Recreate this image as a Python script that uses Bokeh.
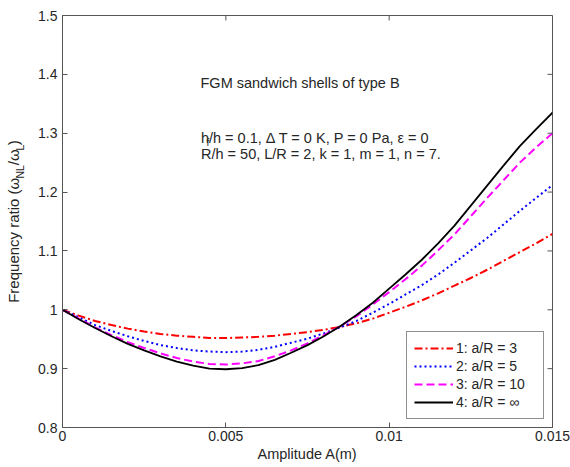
from bokeh.plotting import figure
from bokeh.models import Range1d, FixedTicker, LinearAxis, Label, Legend, LegendItem
from bokeh.embed import file_html
from bokeh.resources import INLINE

# ---- data ----
amplitude = [0.0000, 0.0005, 0.0010, 0.0015, 0.0020, 0.0025, 0.0030, 0.0035,
             0.0040, 0.0045, 0.0050, 0.0055, 0.0060, 0.0065, 0.0070, 0.0075,
             0.0080, 0.0085, 0.0090, 0.0095, 0.0100, 0.0105, 0.0110, 0.0115,
             0.0120, 0.0125, 0.0130, 0.0135, 0.0140, 0.0145, 0.0150]
ratio_aR3 = [1.000, 0.990, 0.981, 0.974, 0.968, 0.963, 0.959, 0.956,
             0.954, 0.952, 0.952, 0.953, 0.954, 0.956, 0.959, 0.962,
             0.966, 0.971, 0.977, 0.985, 0.995, 1.005, 1.016, 1.028,
             1.041, 1.054, 1.068, 1.083, 1.098, 1.113, 1.129]
ratio_aR5 = [1.000, 0.987, 0.974, 0.964, 0.955, 0.947, 0.940, 0.935,
             0.931, 0.929, 0.928, 0.929, 0.932, 0.937, 0.944, 0.951,
             0.960, 0.970, 0.981, 0.995, 1.010, 1.026, 1.042, 1.060,
             1.080, 1.101, 1.122, 1.145, 1.168, 1.190, 1.212]
ratio_aR10 = [1.000, 0.985, 0.970, 0.957, 0.945, 0.935, 0.926, 0.918,
              0.912, 0.908, 0.907, 0.909, 0.913, 0.921, 0.931, 0.943,
              0.957, 0.972, 0.989, 1.009, 1.030, 1.052, 1.075, 1.101,
              1.128, 1.159, 1.190, 1.220, 1.250, 1.276, 1.300]
ratio_aRinf = [1.000, 0.984, 0.969, 0.955, 0.942, 0.931, 0.921, 0.912,
               0.905, 0.900, 0.899, 0.901, 0.906, 0.915, 0.927, 0.940,
               0.955, 0.972, 0.991, 1.012, 1.036, 1.060, 1.085, 1.113,
               1.143, 1.177, 1.211, 1.245, 1.278, 1.307, 1.335]

series_labels = ["1: a/R = 3", "2: a/R = 5", "3: a/R = 10", "4: a/R = \u221e"]

x_ticks = [0.0, 0.005, 0.01, 0.015]
x_tick_labels = ["0", "0.005", "0.01", "0.015"]
y_ticks = [0.8, 0.9, 1.0, 1.1, 1.2, 1.3, 1.4, 1.5]
y_tick_labels = ["0.8", "0.9", "1", "1.1", "1.2", "1.3", "1.4", "1.5"]

x_title = "Amplitude A(m)"
NB = "\u00a0"
# y title: main line with room left for the subscripts, and the subscript line
y_title_main = "Frequency ratio (\u03c9" + NB * 3 + "/\u03c9" + NB + ")"
y_title_sub = NB * 41 + "NL" + NB * 5 + "L"

X_MIN, X_MAX = 0.0, 0.015
Y_MIN, Y_MAX = 0.8, 1.5

FONT = "Liberation Sans"
TXT = "#262626"
AX = "#555555"

# frame placement (canvas pixels)
FX0, FX1, FY0, FY1 = 62.0, 552.0, 427.0, 15.0

p = figure(width=570, height=467, output_backend="svg", toolbar_location=None,
           x_range=Range1d(X_MIN, X_MAX), y_range=Range1d(Y_MIN, Y_MAX),
           min_border_left=62, min_border_right=18, min_border_top=15,
           min_border_bottom=40)
p.grid.visible = False
p.outline_line_color = AX
p.background_fill_color = "white"
p.border_fill_color = "white"

r1 = p.line(amplitude, ratio_aR3, line_color="#ff0000", line_width=2, line_dash="8 3 2 3")
r2 = p.line(amplitude, ratio_aR5, line_color="#0000ff", line_width=2, line_dash="2 3")
r3 = p.line(amplitude, ratio_aR10, line_color="#ff00ff", line_width=2, line_dash="8 4")
r4 = p.line(amplitude, ratio_aRinf, line_color="#000000", line_width=1.8)

p.xaxis.ticker = FixedTicker(ticks=x_ticks)
p.xaxis.major_label_overrides = {t: l for t, l in zip(x_ticks, x_tick_labels)}
p.yaxis.ticker = FixedTicker(ticks=y_ticks)
p.yaxis.major_label_overrides = {t: l for t, l in zip(y_ticks, y_tick_labels)}
for ax in (p.xaxis[0], p.yaxis[0]):
    ax.minor_tick_line_color = None
    ax.major_tick_in = 5
    ax.major_tick_out = 0
    ax.axis_line_color = AX
    ax.major_tick_line_color = AX
    ax.major_label_text_font = FONT
    ax.major_label_text_font_size = "14px"
    ax.major_label_text_color = TXT
    ax.axis_label_text_font = FONT
    ax.axis_label_text_font_style = "normal"
    ax.axis_label_text_color = TXT
p.xaxis.major_label_standoff = 3
p.yaxis.major_label_standoff = 5
p.xaxis.axis_label = x_title
p.xaxis.axis_label_text_font_size = "14.5px"
p.xaxis.axis_label_standoff = 2
p.yaxis.axis_label = y_title_main
p.yaxis.axis_label_text_font_size = "15px"
p.yaxis.axis_label_standoff = 13

# second, bare left axis carrying only the subscript line
sub_axis = LinearAxis(ticker=FixedTicker(ticks=[]), axis_line_color=None,
                      major_tick_line_color=None, minor_tick_line_color=None,
                      major_tick_in=0, major_tick_out=0, major_label_standoff=0,
                      axis_label=y_title_sub, axis_label_text_font=FONT,
                      axis_label_text_font_size="10.5px",
                      axis_label_text_font_style="normal",
                      axis_label_text_color=TXT, axis_label_standoff=-23)
p.add_layout(sub_axis, "left")

# inward ticks on the top and right edges of the box (5 px long)
dx = 5.0 / (FX1 - FX0) * (X_MAX - X_MIN)
dy = 5.0 / (FY0 - FY1) * (Y_MAX - Y_MIN)
p.segment(x0=[X_MAX] * len(y_ticks), x1=[X_MAX - dx] * len(y_ticks),
          y0=y_ticks, y1=y_ticks, line_color=AX, line_width=1)
p.segment(x0=x_ticks, x1=x_ticks, y0=[Y_MAX] * len(x_ticks),
          y1=[Y_MAX - dy] * len(x_ticks), line_color=AX, line_width=1)

legend = Legend(items=[LegendItem(label=l, renderers=[r]) for l, r in
                       zip(series_labels, [r1, r2, r3, r4])],
                location=(344, 8), padding=7, spacing=0, margin=0,
                glyph_width=39, glyph_height=18, label_height=18,
                label_width=80, label_standoff=3,
                label_text_font=FONT, label_text_font_size="14px",
                label_text_color=TXT, border_line_color="#222222",
                border_line_width=1, background_fill_color="white",
                background_fill_alpha=1.0)
p.add_layout(legend)

# helpers converting canvas-pixel placement of in-plot notes to data units
def px(xp):
    return X_MIN + (xp - FX0) / (FX1 - FX0) * (X_MAX - X_MIN)
def py(yp):
    return Y_MIN + (FY0 - yp) / (FY0 - FY1) * (Y_MAX - Y_MIN)

def lab(xp, yp, text, size="14.5px"):
    p.add_layout(Label(x=px(xp), y=py(yp), text=text, text_font=FONT,
                       text_font_size=size, text_color=TXT, text_align="left",
                       text_baseline="alphabetic"))

# annotation text in the plot
lab(200, 82.5, "FGM sandwich shells of type B")
lab(200.5, 137.5, "h")
lab(206, 142, "f", size="10px")
lab(208.5, 137.5, "/h = 0.1, \u0394 T = 0 K, P = 0 Pa, \u03b5 = 0")
lab(200.5, 153.3, "R/h = 50, L/R = 2, k = 1, m = 1, n = 7.")

open("out.html", "w").write(file_html(p, INLINE))
